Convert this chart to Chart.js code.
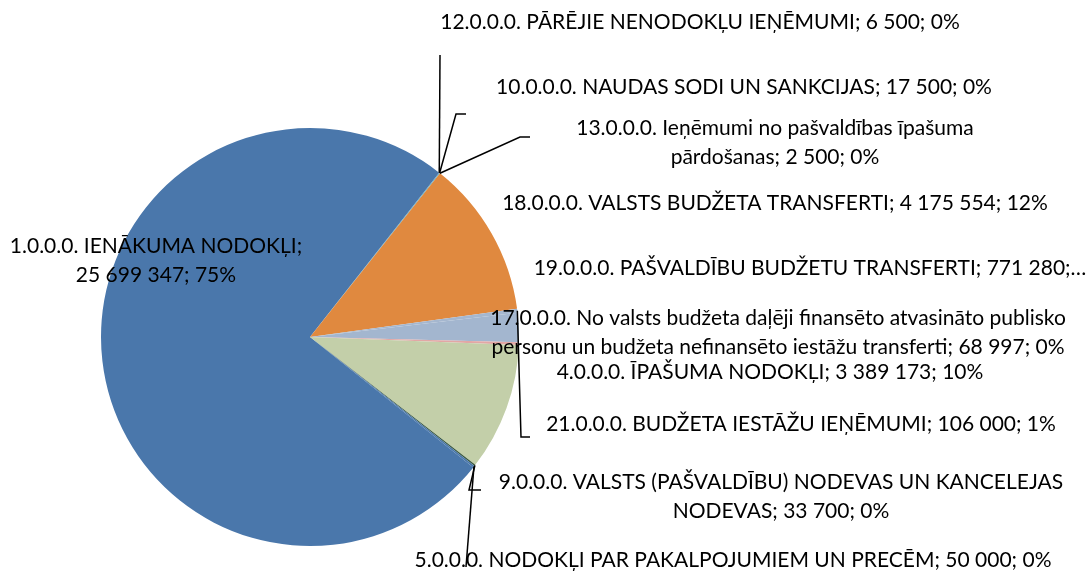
<!DOCTYPE html>
<html>
<head>
<meta charset="utf-8">
<script src="https://cdn.jsdelivr.net/npm/chart.js@4"></script>
<style>
  html, body { margin: 0; padding: 0; background: #fff; }
  #wrap { width: 1086px; height: 574px; position: relative; }
</style>
</head>
<body>
<div id="wrap"><canvas id="pieChart"></canvas></div>
<script>
// ─── Ieņēmumi pa veidiem ─── pie chart
const codes = ['1.0.0.0.', '12.0.0.0.', '10.0.0.0.', '13.0.0.0.', '18.0.0.0.', '21.0.0.0.',
               '19.0.0.0.', '17.0.0.0.', '4.0.0.0.', '9.0.0.0.', '5.0.0.0.'];
const values = [25699347, 6500, 17500, 2500, 4175554, 106000, 771280, 68997, 3389173, 33700, 50000];
// label text per slice (lines)
const labelLines = [
    ['1.0.0.0. IENĀKUMA NODOKĻI;', '25 699 347; 75%'],
    ['12.0.0.0. PĀRĒJIE NENODOKĻU IEŅĒMUMI; 6 500; 0%'],
    ['10.0.0.0. NAUDAS SODI UN SANKCIJAS; 17 500; 0%'],
    ['13.0.0.0. Ieņēmumi no pašvaldības īpašuma', 'pārdošanas; 2 500; 0%'],
    ['18.0.0.0. VALSTS BUDŽETA TRANSFERTI; 4 175 554; 12%'],
    ['21.0.0.0. BUDŽETA IESTĀŽU IEŅĒMUMI; 106 000; 1%'],
    ['19.0.0.0. PAŠVALDĪBU BUDŽETU TRANSFERTI; 771 280;…'],
    ['17.0.0.0. No valsts budžeta daļēji finansēto atvasināto publisko',
     'personu un budžeta nefinansēto iestāžu transferti; 68 997; 0%'],
    ['4.0.0.0. ĪPAŠUMA NODOKĻI; 3 389 173; 10%'],
    ['9.0.0.0. VALSTS (PAŠVALDĪBU) NODEVAS UN KANCELEJAS', 'NODEVAS; 33 700; 0%'],
    ['5.0.0.0. NODOKĻI PAR PAKALPOJUMIEM UN PRECĒM; 50 000; 0%']
];
const colors = ['#4a77ab', '#8064a2', '#4bacc6', '#4bacc6', '#e0893f', '#a5b7cf',
                '#a3b6cf', '#e2a7a5', '#c3cfa9', '#3b5a3f', '#4a77ab'];

// label placement: centre x, first line y; leader = points after the slice edge
const labelLayout = [
    { x: 156, y: 246, leader: null },
    { x: 700, y: 22,  leader: [[440, 55]] },
    { x: 744, y: 87,  leader: [[456, 114], [466, 114]] },
    { x: 775, y: 128, leader: [[520, 137], [530, 137]] },
    { x: 775, y: 203, leader: null },
    { x: 801, y: 424, leader: [[521, 437], [530, 437]] },
    { x: 810, y: 268, leader: null },
    { x: 778, y: 318, leader: null },
    { x: 770, y: 372, leader: null },
    { x: 781, y: 482, leader: [[469, 490], [481, 490]] },
    { x: 733, y: 560, leader: [[466, 567]] }
];
const LINE_H = 29;
const FONT = '21px Lato, "Open Sans", sans-serif';

const labelPlugin = {
    id: 'sliceLabels',
    afterDatasetsDraw(chart) {
        const ctx = chart.ctx;
        const arcs = chart.getDatasetMeta(0).data;
        ctx.save();
        // leader lines
        ctx.strokeStyle = '#000';
        ctx.lineWidth = 1.5;
        arcs.forEach(function(arc, i) {
            const lay = labelLayout[i];
            if (!lay.leader) return;
            const p = arc.getProps(['x', 'y', 'startAngle', 'endAngle', 'outerRadius'], true);
            const mid = (p.startAngle + p.endAngle) / 2;
            ctx.beginPath();
            ctx.moveTo(p.x + Math.cos(mid) * p.outerRadius, p.y + Math.sin(mid) * p.outerRadius);
            lay.leader.forEach(function(pt) { ctx.lineTo(pt[0], pt[1]); });
            ctx.stroke();
        });
        // texts
        ctx.fillStyle = '#000';
        ctx.font = FONT;
        ctx.textAlign = 'center';
        ctx.textBaseline = 'middle';
        labelLines.forEach(function(lines, i) {
            const lay = labelLayout[i];
            lines.forEach(function(t, k) { ctx.fillText(t, lay.x, lay.y + k * LINE_H); });
        });
        ctx.restore();
    }
};

new Chart(document.getElementById('pieChart').getContext('2d'), {
    type: 'pie',
    data: {
        labels: codes,
        datasets: [{
            data: values,
            backgroundColor: colors,
            borderWidth: 0
        }]
    },
    options: {
        responsive: true,
        maintainAspectRatio: false,
        animation: false,
        rotation: 128.6,
        layout: { padding: { left: 101, right: 567, top: 128, bottom: 28 } },
        plugins: {
            legend: { display: false },
            tooltip: { enabled: false }
        }
    },
    plugins: [labelPlugin]
});
</script>
</body>
</html>
